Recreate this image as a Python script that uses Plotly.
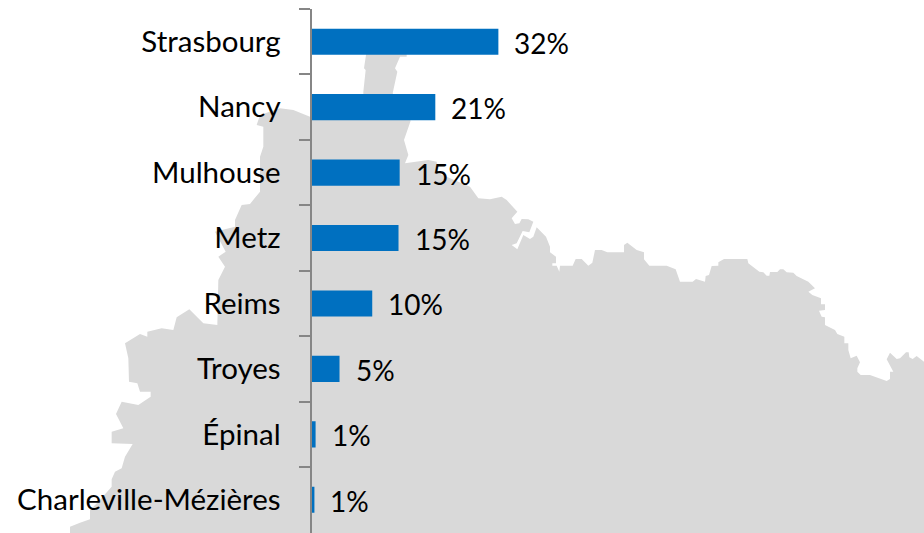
import plotly.graph_objects as go

categories = ["Strasbourg", "Nancy", "Mulhouse", "Metz", "Reims", "Troyes", "Épinal", "Charleville-Mézières"]
shares = [32.0, 21.2, 15.1, 14.9, 10.4, 4.8, 0.7, 0.5]
share_labels = ["32%", "21%", "15%", "15%", "10%", "5%", "1%", "1%"]

W, H = 924, 533
AXIS_X, AXIS_TOP, AXIS_BOTTOM = 311.5, 9, 532.5
PX_PER_UNIT = 5.84

# Decorative map silhouette behind the chart in pixels.
west_edge = [(30,740),(60,728),(90,718),(90,690),(115,665),(155,620),(155,598),(165,575),(185,565),(195,530),(218,492),
             (155,490),(155,455),(190,445),(168,402),(185,365),(235,375),(272,350),(272,335),(240,335),(232,310),(207,305),
             (205,235),(195,190),(240,162),(262,170),(262,155),(305,145),(340,150),(350,112),(388,88),(430,130),(472,135)]
north_edge = [(475,840),(495,800),(475,770),(497,755),(465,695),(525,680),(525,660),(545,615),(570,612),(600,575),(600,470),
              (610,440),(610,380),(590,375),(600,345),(660,325),(700,330),(750,350),(910,290),(910,275),(917,210),(912,205),
              (918,165),(920,150),(1040,150),(1040,170),(1020,170),(1005,205),(1012,215),(998,280),(1052,362),(1032,420),
              (1045,465),(1035,490),(1105,480),(1130,485),(1135,520),(1230,560),(1255,595),(1290,598),(1325,590)]
east_edge = [(20,0),(52,35),(35,55),(45,72),(58,70),(65,57),(85,58),(100,65),(88,97),(68,93),(50,130),(35,135),(52,148),
             (70,105),(90,117),(100,110),(110,82),(138,110),(150,140),(150,157),(168,170),(168,190),(157,190),(157,197),
             (170,197),(178,215),(180,197),(218,197),(227,177),(245,177),(265,197),(277,188),(285,150),(305,150),(322,157),
             (372,157),(372,135),(382,128),(410,150),(432,157),(432,178),(448,197),(500,197),(527,208),(540,245),(578,245),
             (588,237),(615,245),(617,228),(627,225),(635,198),(655,197),(655,187),(672,177),(742,177),(745,190),(778,215),
             (790,217),(800,227),(808,227),(810,216),(832,216),(840,208),(850,208),(860,217),(880,218),(890,228),(925,245),
             (945,265),(925,275),(937,285),(963,295),(963,313),(975,313),(975,330),(957,332),(965,350),(975,352),(975,375),
             (1005,390),(1012,402),(1033,410),(1033,430),(1045,430),(1045,450),(1052,475),(1070,467),(1080,487),(1072,505),
             (1072,515),(1082,525),(1110,525),(1160,543),(1170,537),(1170,515),(1180,515),(1160,478),(1170,458),(1190,477),
             (1200,475),(1218,457),(1226,457),(1228,472),(1238,477),(1250,468),(1272,485)]

def crop(points, x0, y0):
    return [(x0 + x / 3, y0 + y / 3) for x, y in points]

outline = crop(west_edge, 60, 280) + crop(north_edge, 60, 0) + crop(east_edge, 500, 200) + [(W, H), (70, H)]
map_path = "M " + " L ".join(f"{x / W:.5f},{1 - y / H:.5f}" for x, y in outline) + " Z"

FONT = "Lato, Carlito, sans-serif"

fig = go.Figure(go.Bar(
    y=categories, x=shares, orientation="h",
    marker=dict(color="#0070C0", line=dict(width=0)),
    width=0.4, hoverinfo="skip",
))

for cat, val, lab in zip(categories, shares, share_labels):
    fig.add_annotation(x=val, y=cat, xref="x", yref="y", text=lab, showarrow=False,
                       xanchor="left", xshift=14, yshift=-1,
                       font=dict(family=FONT, size=28, color="#000000"))

fig.add_shape(type="path", path=map_path, xref="paper", yref="paper", layer="below",
              fillcolor="#D9D9D9", line=dict(width=0))

fig.update_layout(
    width=W, height=H, autosize=False,
    margin=dict(l=0, r=0, t=0, b=0),
    paper_bgcolor="#FFFFFF", plot_bgcolor="rgba(0,0,0,0)",
    showlegend=False,
    font=dict(family=FONT, size=28, color="#000000"),
    xaxis=dict(domain=[AXIS_X / W, 1], range=[0, (W - AXIS_X) / PX_PER_UNIT], visible=False, fixedrange=True),
    yaxis=dict(domain=[1 - AXIS_BOTTOM / H, 1 - AXIS_TOP / H], type="category", categoryorder="array",
               categoryarray=categories, autorange="reversed", showline=True, linecolor="#868686", linewidth=2,
               ticks="outside", tickson="boundaries", ticklen=11, tickcolor="#868686", tickwidth=2,
               ticklabelstandoff=23, showgrid=False, zeroline=False, fixedrange=True,
               tickfont=dict(family=FONT, size=29.5, color="#000000")),
)

fig.write_html("out.html", config={"displayModeBar": False},
               post_script="document.body.style.margin='0';document.body.style.overflow='hidden';")
